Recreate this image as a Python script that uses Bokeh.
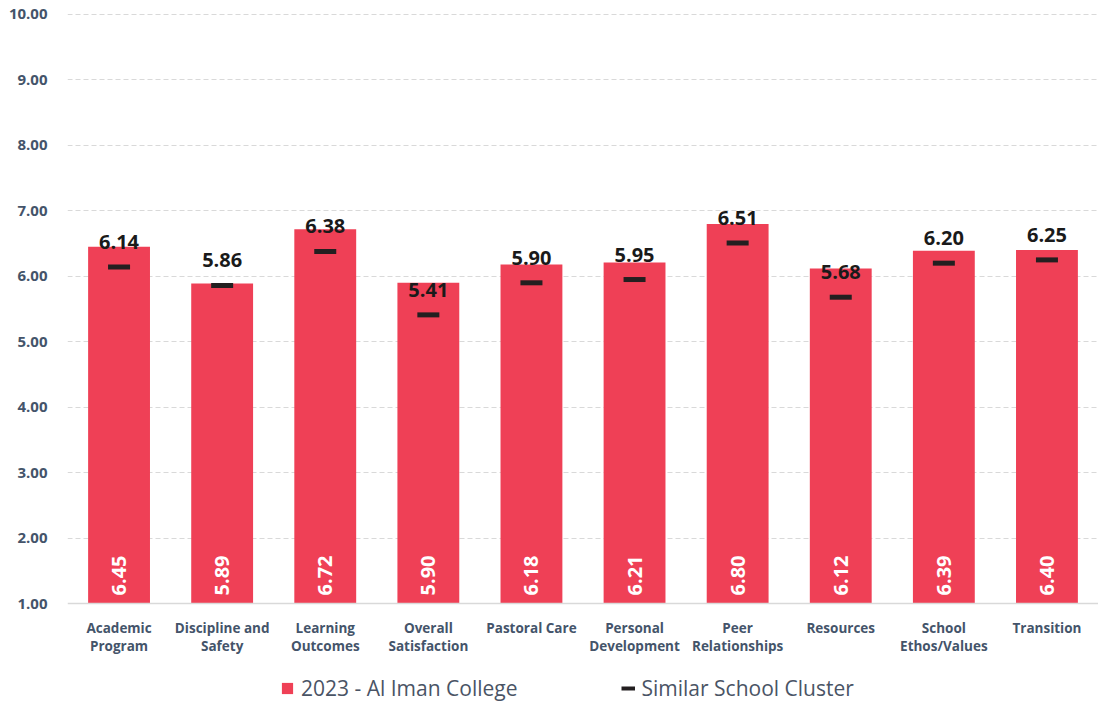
from bokeh.plotting import figure
from bokeh.models import (ColumnDataSource, FactorRange, Range1d, FixedTicker, Legend, LegendItem,
                          NumeralTickFormatter, Span)
from bokeh.core.properties import value
from bokeh.embed import file_html
from bokeh.resources import INLINE
import math

categories = ["Academic Program", "Discipline and Safety", "Learning Outcomes", "Overall Satisfaction",
              "Pastoral Care", "Personal Development", "Peer Relationships", "Resources",
              "School Ethos/Values", "Transition"]
category_labels = ["Academic\nProgram", "Discipline and\nSafety", "Learning\nOutcomes", "Overall\nSatisfaction",
                   "Pastoral Care", "Personal\nDevelopment", "Peer\nRelationships", "Resources",
                   "School\nEthos/Values", "Transition"]
school_2023 = [6.45, 5.89, 6.72, 5.90, 6.18, 6.21, 6.80, 6.12, 6.39, 6.40]
cluster = [6.14, 5.86, 6.38, 5.41, 5.90, 5.95, 6.51, 5.68, 6.20, 6.25]
y_ticks = [1, 2, 3, 4, 5, 6, 7, 8, 9, 10]
series_names = ["2023 - Al Iman College", "Similar School Cluster"]

FONT = "Open Sans"
TXT = "#44546A"
BAR = "#EF4056"
Y_BOTTOM = -0.543  # extra room below the axis for category labels and legend
Y_TOP = 10.03      # tiny headroom so the 10.00 grid line is not clipped

src = ColumnDataSource(dict(
    cat=categories,
    label=category_labels,
    school=school_2023,
    cluster=cluster,
    school_txt=["%.2f" % v for v in school_2023],
    cluster_txt=["%.2f" % v for v in cluster],
    base=[y_ticks[0]] * len(categories),
))

p = figure(x_range=FactorRange(*categories), y_range=Range1d(Y_BOTTOM, Y_TOP),
           width=1098, height=704, output_backend="svg", toolbar_location=None,
           min_border_top=12, min_border_left=67, min_border_right=0, min_border_bottom=0)
p.outline_line_color = None

bars = p.vbar(x="cat", top="school", bottom="base", width=0.6, source=src,
              fill_color=BAR, line_color=None)
p.rect(x="cat", y="cluster", width=22, height=5, width_units="screen", height_units="screen",
       source=src, fill_color="#231F20", line_color=None)
dummy = p.line(x=[categories[0], categories[1]], y=[Y_BOTTOM - 5, Y_BOTTOM - 5],
               line_color="#231F20", line_width=4)

p.add_layout(Span(location=y_ticks[0], dimension="width", line_color="#D9D9D9", line_width=1.5))

p.text(x="cat", y="base", text="school_txt", source=src, angle=math.pi / 2,
       text_align="left", text_baseline="middle", y_offset=-8,
       text_font=value(FONT), text_font_size="20px", text_font_style="bold", text_color="white")
p.text(x="cat", y="cluster", text="cluster_txt", source=src,
       text_align="center", text_baseline="middle", y_offset=-25,
       text_font=value(FONT), text_font_size="20px", text_font_style="bold", text_color="#1A1A1A")
p.text(x="cat", y="base", text="label", source=src,
       text_align="center", text_baseline="top", y_offset=15, text_line_height=1.05,
       text_font=value(FONT), text_font_size="13.5px", text_font_style="bold", text_color=TXT)

# axes
p.xaxis.visible = False
p.yaxis.ticker = FixedTicker(ticks=y_ticks)
p.yaxis.formatter = NumeralTickFormatter(format="0.00")
p.yaxis.axis_line_color = None
p.yaxis.major_tick_line_color = None
p.yaxis.minor_tick_line_color = None
p.yaxis.major_label_standoff = 14
p.yaxis.major_label_text_font = FONT
p.yaxis.major_label_text_font_size = "15px"
p.yaxis.major_label_text_font_style = "bold"
p.yaxis.major_label_text_color = TXT

p.xgrid.grid_line_color = None
p.ygrid.grid_line_color = "#D9D9D9"
p.ygrid.grid_line_dash = "5 3"
p.ygrid.ticker = FixedTicker(ticks=y_ticks[1:])

legend = Legend(items=[LegendItem(label=series_names[0], renderers=[bars]),
                       LegendItem(label=series_names[1], renderers=[dummy])],
                orientation="horizontal", location=(213, 2),
                glyph_width=14, glyph_height=14, label_standoff=7, spacing=103,
                label_text_font=FONT, label_text_font_size="21px", label_text_color="#4A5465",
                border_line_color=None, background_fill_alpha=0, padding=0, margin=0)
p.add_layout(legend)

open("out.html", "w").write(file_html(p, INLINE))
